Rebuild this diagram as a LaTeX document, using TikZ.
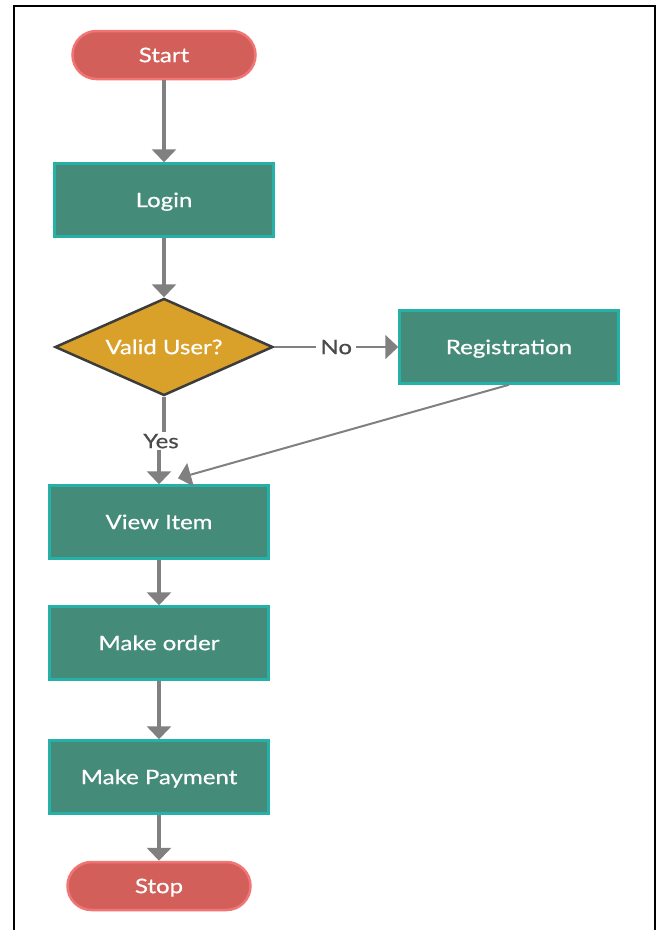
\documentclass[tikz,border=0pt]{standalone}
\usepackage{fontspec}
\setmainfont{Lato}[FakeStretch=1.2, FakeBold=0.6]
\usetikzlibrary{shapes.geometric,arrows.meta}

\definecolor{termfill}{HTML}{D35F5A}
\definecolor{termline}{HTML}{F27575}
\definecolor{procfill}{HTML}{458B79}
\definecolor{procline}{HTML}{25B0A8}
\definecolor{decfill}{HTML}{D9A02A}
\definecolor{decline}{HTML}{3C3C3C}
\definecolor{flow}{HTML}{808080}
\definecolor{lbltext}{HTML}{4A4A4A}

\tikzset{
  every node/.style={font=\fontsize{20}{24}\selectfont, text height=14.3pt, text depth=0pt},
  terminal/.style={rectangle, rounded corners=24pt, fill=termfill, draw=termline,
    line width=2.5pt, minimum width=183pt, minimum height=48pt, inner sep=0pt, text=white},
  process/.style={rectangle, fill=procfill, draw=procline, line width=2.5pt,
    minimum width=219pt, minimum height=73pt, inner sep=0pt, text=white},
  decision/.style={diamond, fill=decfill, draw=decline, line width=2.5pt, aspect=2.25,
    minimum width=218pt, minimum height=97pt, inner sep=0pt, text=white},
  tip/.style={-{Triangle[width=24pt,length=13pt]}},
  flowline/.style={draw=flow, line width=3.5pt},
  flowarrow/.style={flowline, tip},
  thinarrow/.style={draw=flow, line width=2pt, tip},
  edgelabel/.style={fill=white, text=lbltext, inner sep=4pt}
}

\begin{document}
\begin{tikzpicture}[x=1pt,y=-1pt]
  \useasboundingbox (0,0) rectangle (659,930);
  % page frame, open at the bottom
  \draw[line width=2.5pt, line cap=butt, line join=miter] (14,930) -- (14,6) -- (655,6) -- (655,930);

  \node[terminal] (start) at (164,55)  {Start};
  \node[process]  (login) at (164,200) {Login};
  \node[decision] (valid) at (164,347) {Valid User?};
  \node[process]  (reg)   at (509,347) {Registration};
  \node[process]  (view)  at (159,522) {View Item};
  \node[process]  (order) at (159,643) {Make order};
  \node[process]  (pay)   at (159,777) {Make Payment};
  \node[terminal] (stop)  at (159,886) {Stop};

  \node[edgelabel, fill=none, inner sep=2pt] (yes) at (161,441) {Yes};

  \draw[flowarrow] (start) -- (login);
  \draw[flowarrow] (login) -- (valid);
  \draw[thinarrow] (valid.east) -- node[edgelabel] {No} (reg.west);
  \draw[flowline] (valid.south) -- (valid.south |- yes.north);
  \draw[flowarrow] (view.north |- yes.south) -- (view.north);
  \draw[thinarrow] (reg.south) -- ([shift={(19pt,6pt)}]view.north);
  \draw[flowarrow] (view) -- (order);
  \draw[flowarrow] (order) -- (pay);
  \draw[flowarrow] (pay) -- (stop);
\end{tikzpicture}
\end{document}
